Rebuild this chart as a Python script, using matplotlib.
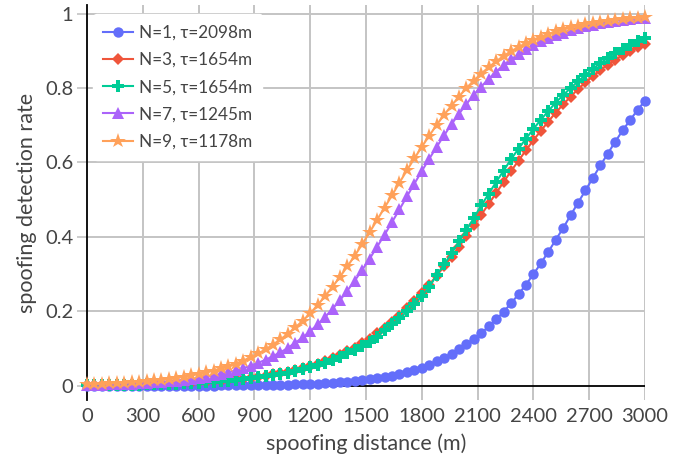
import numpy as np
import matplotlib.pyplot as plt

plt.rcParams['font.family'] = ['Lato', 'DejaVu Sans']

# spoofing distance (m), one sample every 40 m
distance = np.arange(0, 3001, 40)

# detection rate for each window size N
rate_n1 = [0.0001, 0.0001, 0.0002, 0.0002, 0.0002, 0.0002, 0.0003, 0.0003, 0.0003, 0.0004,
           0.0004, 0.0005, 0.0005, 0.0006, 0.0007, 0.0008, 0.0008, 0.0009, 0.0010, 0.0011,
           0.0012, 0.0014, 0.0016, 0.0018, 0.0021, 0.0025, 0.0029, 0.0034, 0.0039, 0.0045,
           0.0052, 0.006, 0.007, 0.008, 0.0095, 0.011, 0.013, 0.015, 0.0175, 0.020,
           0.023, 0.027, 0.031, 0.036, 0.042, 0.049, 0.057, 0.066, 0.076, 0.086,
           0.099, 0.112, 0.127, 0.142, 0.160, 0.179, 0.199, 0.222, 0.246, 0.272,
           0.300, 0.329, 0.360, 0.392, 0.424, 0.458, 0.492, 0.525, 0.559, 0.592,
           0.624, 0.656, 0.686, 0.714, 0.741, 0.766]
rate_n3 = [0.0017, 0.0019, 0.0021, 0.0024, 0.0027, 0.0030, 0.0034, 0.0038, 0.0043, 0.0048,
           0.0054, 0.0060, 0.0068, 0.0076, 0.0086, 0.0096, 0.0108, 0.0121, 0.0137, 0.0153,
           0.0172, 0.0193, 0.0217, 0.0244, 0.0273, 0.0306, 0.0343, 0.0384, 0.0430, 0.048,
           0.054, 0.060, 0.067, 0.075, 0.083, 0.093, 0.103, 0.115, 0.127, 0.141,
           0.156, 0.172, 0.189, 0.208, 0.228, 0.249, 0.272, 0.296, 0.321, 0.347,
           0.374, 0.402, 0.431, 0.460, 0.489, 0.518, 0.548, 0.577, 0.605, 0.633,
           0.660, 0.685, 0.710, 0.734, 0.756, 0.777, 0.797, 0.815, 0.832, 0.848,
           0.863, 0.876, 0.888, 0.899, 0.910, 0.919]
rate_n5 = [0.0016, 0.0018, 0.0020, 0.0022, 0.0025, 0.0028, 0.0032, 0.0035, 0.0040, 0.0045,
           0.0050, 0.0056, 0.0063, 0.0071, 0.0080, 0.0089, 0.0100, 0.0113, 0.0127, 0.0142,
           0.0160, 0.0179, 0.0202, 0.0227, 0.0254, 0.0285, 0.0319, 0.0357, 0.0400, 0.0446,
           0.050, 0.056, 0.062, 0.070, 0.077, 0.087, 0.096, 0.107, 0.118, 0.132,
           0.150, 0.165, 0.182, 0.200, 0.220, 0.241, 0.265, 0.298, 0.326, 0.356,
           0.388, 0.419, 0.451, 0.485, 0.516, 0.548, 0.578, 0.609, 0.637, 0.664,
           0.690, 0.715, 0.738, 0.761, 0.781, 0.800, 0.818, 0.835, 0.852, 0.867,
           0.881, 0.894, 0.906, 0.916, 0.926, 0.935]
rate_n7 = [0.0027, 0.0031, 0.0036, 0.0041, 0.0048, 0.0055, 0.0062, 0.0072, 0.0082, 0.0094,
           0.0108, 0.0124, 0.0142, 0.0163, 0.0186, 0.0213, 0.0244, 0.0279, 0.0319, 0.0364,
           0.0415, 0.0474, 0.054, 0.062, 0.070, 0.080, 0.090, 0.102, 0.116, 0.130,
           0.147, 0.165, 0.185, 0.207, 0.230, 0.256, 0.283, 0.312, 0.342, 0.374,
           0.406, 0.440, 0.474, 0.509, 0.543, 0.577, 0.610, 0.642, 0.673, 0.703,
           0.731, 0.757, 0.782, 0.804, 0.825, 0.844, 0.862, 0.877, 0.891, 0.904,
           0.915, 0.925, 0.934, 0.942, 0.949, 0.956, 0.961, 0.966, 0.970, 0.974,
           0.977, 0.980, 0.983, 0.985, 0.987, 0.988]
rate_n9 = [0.0044, 0.0050, 0.0058, 0.0066, 0.0075, 0.0086, 0.0098, 0.0112, 0.0127, 0.0145,
           0.0166, 0.0189, 0.0215, 0.0245, 0.0279, 0.0318, 0.0361, 0.0411, 0.0467, 0.053,
           0.060, 0.068, 0.077, 0.087, 0.098, 0.111, 0.125, 0.140, 0.157, 0.175,
           0.195, 0.217, 0.241, 0.266, 0.293, 0.321, 0.350, 0.381, 0.413, 0.446,
           0.479, 0.512, 0.546, 0.579, 0.611, 0.642, 0.672, 0.701, 0.728, 0.753,
           0.777, 0.800, 0.820, 0.839, 0.856, 0.872, 0.886, 0.899, 0.910, 0.921,
           0.930, 0.938, 0.945, 0.952, 0.958, 0.963, 0.967, 0.971, 0.975, 0.978,
           0.981, 0.983, 0.985, 0.987, 0.988, 0.990]

labels = ["N=1, τ=2098m", "N=3, τ=1654m", "N=5, τ=1654m", "N=7, τ=1245m", "N=9, τ=1178m"]
colors = ["#636EFA", "#EF553B", "#00CC96", "#AB63FA", "#FFA15A"]
markers = ["o", "D", "P", "^", "*"]
sizes = [7.5, 6.5, 8.5, 8, 11.5]

x_ticks = np.arange(0, 3001, 300)
y_ticks = [0, 0.2, 0.4, 0.6, 0.8, 1]
y_tick_labels = ["0", "0.2", "0.4", "0.6", "0.8", "1"]

fig = plt.figure(figsize=(6.94, 4.59), dpi=100)
ax = fig.add_axes([0.1254, 0.1285, 0.804, 0.8606])

series = [rate_n1, rate_n3, rate_n5, rate_n7, rate_n9]
for rate, lab, col, mk, ms in zip(series, labels, colors, markers, sizes):
    ax.plot(distance, rate, color=col, marker=mk, markersize=ms, linewidth=1.5,
            markeredgewidth=0, label=lab, clip_on=False, zorder=3)

ax.set_xlim(0, 3000)
ax.set_ylim(-0.038, 1.023)

# grid: vertical at every x tick, horizontal above zero; zero line in black
ax.set_xticks(x_ticks)
ax.set_yticks(y_ticks)
ax.set_yticklabels(y_tick_labels)
for xv in x_ticks[1:]:
    ax.axvline(xv, color="#c4c4c4", linewidth=1.4, zorder=0)
for yv in y_ticks[1:]:
    ax.axhline(yv, color="#c4c4c4", linewidth=1.4, zorder=0)
ax.axhline(0, color="black", linewidth=1.3, zorder=1)

for side in ["top", "right", "bottom"]:
    ax.spines[side].set_visible(False)
ax.spines["left"].set_color("black")
ax.spines["left"].set_linewidth(1.3)

ax.tick_params(axis="x", length=0, pad=6, labelsize=14.5, labelcolor="#444444")
ax.tick_params(axis="y", length=7, width=1.2, color="#c4c4c4", pad=3,
               labelsize=14.5, labelcolor="#444444")

ax.set_xlabel("spoofing distance (m)", fontsize=15.5, color="#444444", labelpad=6)
ax.set_ylabel("spoofing detection rate", fontsize=15.5, color="#444444", labelpad=6)

leg = ax.legend(loc="upper left", bbox_to_anchor=(0.005, 0.985), fontsize=12.3,
                frameon=True, facecolor="white", edgecolor="white", framealpha=1,
                handlelength=1.7, handletextpad=0.35, labelspacing=0.66,
                borderpad=0.6, borderaxespad=0.2)
for t in leg.get_texts():
    t.set_color("#444444")

fig.savefig("out.png", dpi=100)
